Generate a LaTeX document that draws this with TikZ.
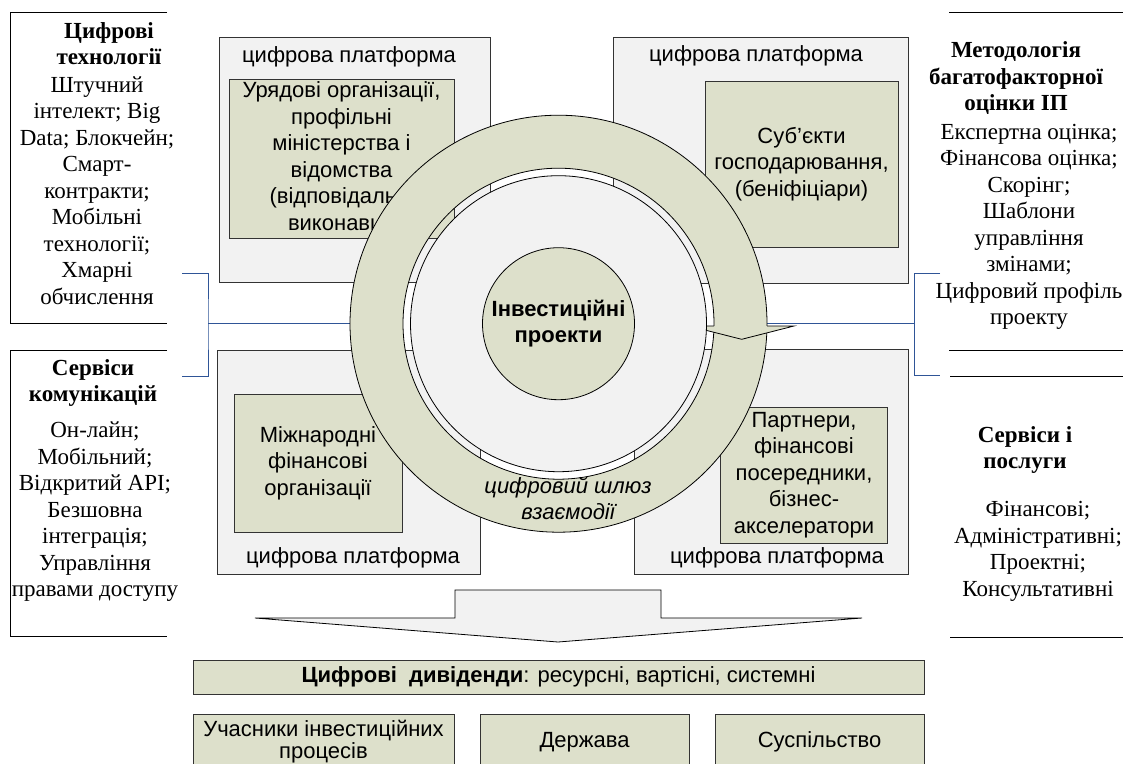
\documentclass[tikz,border=0pt]{standalone}
\usepackage{fontspec}
\setmainfont{Liberation Sans}
\newfontfamily\timesf{Liberation Serif}
\definecolor{platgrey}{RGB}{242,242,242}
\definecolor{olive}{RGB}{221,224,203}
\definecolor{brk}{RGB}{47,85,151}

\begin{document}
\begin{tikzpicture}[x=1pt,y=-1pt,
  sansf/.style={font=\fontsize{22}{26.5}\selectfont},
  platbox/.style={draw=black!80,fill=platgrey,line width=0.8pt,inner sep=0pt},
  platlabel/.style={sansf,inner sep=0pt},
  greenbox/.style={draw=black!80,fill=olive,line width=0.8pt,inner sep=0pt,align=center,sansf},
  resultbox/.style={greenbox,font=\fontsize{22}{22}\selectfont},
  sidetext/.style={align=center,inner sep=0pt,font=\timesf\fontsize{23}{26.5}\selectfont},
  sidehead/.style={sidetext,font=\timesf\bfseries\fontsize{23}{26.5}\selectfont},
  openframe/.style={line width=0.9pt},
  bracket/.style={draw=brk,line width=0.9pt},
  ringline/.style={line width=0.8pt}]
\useasboundingbox (0,0) rectangle (1123,763);
\clip (0,0) rectangle (1123,763);
\fill[white] (0,0) rectangle (1123,763);

\draw[openframe] (167,12) -- (10,12) -- (10,323) -- (167,323);
\draw[openframe] (167,350) -- (10,350) -- (10,636) -- (167,636);
\draw[openframe] (949,12) -- (1130,12);
\draw[openframe] (949,350) -- (1130,350);
\draw[openframe] (950,376) -- (1130,376);
\draw[openframe] (950,637) -- (1130,637);

\node[sidehead] (techH) at (109,43.5) {Цифрові\\технології};
\node[sidetext] (tech) at (97,190.5) {Штучний\\інтелект; Big\\Data; Блокчейн;\\Смарт-\\контракти;\\Мобільні\\технології;\\Хмарні\\обчислення};
\node[sidehead] (commH) at (93,383) {Сервіси\\комунікацій};
\node[sidetext] (comm) at (95,512) {Он-лайн;\\Мобільний;\\Відкритий API;\\Безшовна\\інтеграція;\\Управління\\правами доступу};
\node[sidehead] (methH) at (1016,78.5) {Методологія\\багатофакторної\\оцінки ІП};
\node[sidetext] (meth) at (1029,227) {Експертна оцінка;\\Фінансова оцінка;\\Скорінг;\\Шаблони\\управління\\змінами;\\Цифровий профіль\\проекту};
\node[sidehead] (servH) at (1025,450) {Сервіси і\\послуги};
\node[sidetext] (serv) at (1038,551.5) {Фінансові;\\Адміністративні;\\Проектні;\\Консультативні};

\node[platbox,minimum width=271pt,minimum height=245pt] (pTL) at (354.5,159.5) {};
\node[platbox,minimum width=295pt,minimum height=246pt] (pTR) at (760.5,160) {};
\node[platbox,minimum width=263pt,minimum height=224pt] (pBL) at (348.5,462) {};
\node[platbox,minimum width=274pt,minimum height=225pt] (pBR) at (771,461.5) {};
\node[platlabel] (lTL) at (349,57) {цифрова платформа};
\node[platlabel] (lTR) at (756,56) {цифрова платформа};
\node[platlabel] (lBL) at (353,558) {цифрова платформа};
\node[platlabel] (lBR) at (777,558) {цифрова платформа};

\node[greenbox,minimum width=225pt,minimum height=159pt] (gov) at (341.5,158.5) {Урядові організації,\\профільні\\міністерства і\\відомства\\(відповідальні\\виконавці)};
\node[greenbox,minimum width=193pt,minimum height=166pt] (biz) at (801.5,164) {Суб’єкти\\господарювання,\\(беніфіціари)};
\node[greenbox,minimum width=168pt,minimum height=138pt] (ifo) at (318,463) {Міжнародні\\фінансові\\організації};
\node[greenbox,minimum width=167pt,minimum height=136pt] (part) at (804,475) {Партнери,\\фінансові\\посередники,\\бізнес-\\акселератори};

\coordinate (C) at (558.5,323.7);
\node[circle,minimum size=417pt,inner sep=0pt] (gate) at (C) {};
\coordinate (lbT) at (182,273);
\coordinate (lbB) at (182,376);
\coordinate (lbM) at (208,323.7);
\coordinate (rbT) at (940,273);
\coordinate (rbB) at (940,375);
\coordinate (rbM) at (914,323.7);
\draw[bracket] (lbT) -| (lbM) |- (lbB);
\draw[bracket] (lbM) -- (gate.west);
\draw[bracket] (rbT) -| (rbM) |- (rbB);
\draw[bracket] (rbM) -- (gate.east);

\fill[olive,even odd rule] (C) circle[radius=208.5pt] (C) circle[radius=155.5pt];
\draw[ringline] (C) circle[radius=208.5pt] (C) circle[radius=155.5pt];
\fill[olive] (689,326) -- (741.7,339.3) -- (794,326) -- cycle;
\draw[ringline] (714,326) -- (689,326) -- (741.7,339.3) -- (794,326) -- (767,326);
\draw[ringline,fill=platgrey] (C) circle[radius=148pt];
\node[circle,draw,ringline,fill=olive,minimum size=152pt,inner sep=0pt,align=center,font=\bfseries\fontsize{22}{26.5}\selectfont] (proj) at (C) {Інвестиційні\\проекти};
\node[align=center,inner sep=0pt,font=\itshape\fontsize{22}{26.5}\selectfont] (gw) at (568,498.5) {цифровий шлюз\\взаємодії};

\draw[ringline,fill=platgrey] (455,590) -- (661,590) -- (661,618) -- (862,618) -- (558,642) -- (255,618) -- (455,618) -- cycle;

\node[resultbox,minimum width=731pt,minimum height=34pt] (div) at (558.5,677) {\textbf{Цифрові\ \ дивіденди}: ресурсні, вартісні, системні};
\node[resultbox,minimum width=261pt,minimum height=56pt] (memb) at (323.5,742) {Учасники інвестиційних\\процесів};
\node[resultbox,minimum width=209pt,minimum height=56pt] (state) at (584.5,742) {Держава};
\node[resultbox,minimum width=209pt,minimum height=56pt] (soc) at (819.5,742) {Суспільство};
\end{tikzpicture}
\end{document}
